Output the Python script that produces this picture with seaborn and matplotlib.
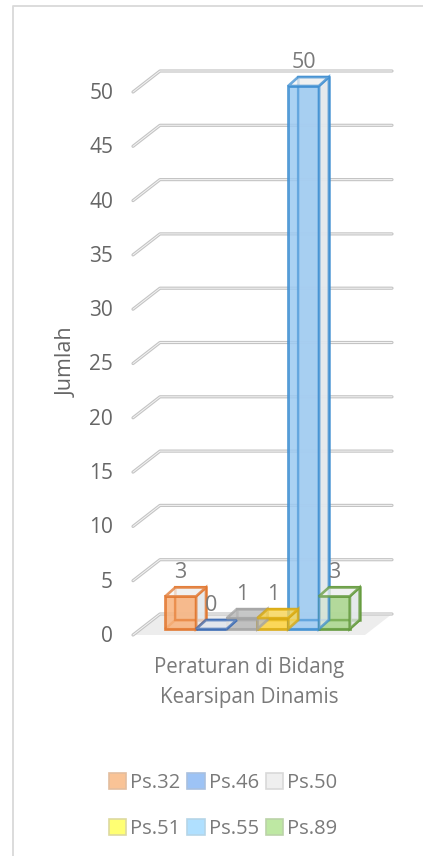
import matplotlib
matplotlib.use("Agg")
import matplotlib.pyplot as plt
import pandas as pd
import seaborn as sns
from matplotlib.patches import Patch, Polygon
from matplotlib.transforms import Affine2D

pasal = ["Ps.32", "Ps.46", "Ps.50", "Ps.51", "Ps.55", "Ps.89"]
jumlah = [3, 0, 1, 1, 50, 3]
y_ticks = [0, 5, 10, 15, 20, 25, 30, 35, 40, 45, 50]

front_colors = ["#F8B27C", "#6F9BD8", "#BDBDBD", "#FFD84D", "#9CCAF2", "#A9D68C"]
edge_colors = ["#E2772F", "#3E6DB5", "#A3A3A3", "#D9A90F", "#3F8FD2", "#639A3C"]
legend_colors = ["#F9C396", "#9DC3F5", "#EFEFEF", "#FFFF73", "#B0E0FF", "#BEE8A3"]
legend_edges = ["#E3BE9F", "#A9C0DF", "#D9D9D9", "#DDD9A0", "#B5D5E8", "#BBD3A8"]

W, H = 423, 856
GRAY = "#7A7A7A"

sns.set_style("white")
plt.rcParams["font.family"] = ["Open Sans", "DejaVu Sans"]

fig = plt.figure(figsize=(W / 100, H / 100), dpi=100)
# front plane of the bars, in pixels of the picture
ax = fig.add_axes([133 / W, 1 - 629 / H, 232 / W, 543 / H])
sx = 7.55 / 232  # data per pixel
sy = 50 / 543

df = pd.DataFrame({"pasal": pasal, "jumlah": jumlah})

sns.barplot(data=df, x="pasal", y="jumlah", hue="pasal", palette=front_colors,
            width=1.0, saturation=1, legend=False, ax=ax, zorder=4)
ax.set_xlim(-1.55, 6.0)
ax.set_ylim(0, 50)
bars = list(ax.patches)

# back wall and floor
wall_dx, wall_dy = 27 * sx, 15 * sy
front_dx, front_dy = 0, -6 * sy
ax.add_patch(Polygon([(-1.55 + front_dx, front_dy), (-1.55 + wall_dx, wall_dy),
                      (6.0 + wall_dx, wall_dy), (6.0, front_dy)],
                     closed=True, fc="#EDEDED", ec="none", clip_on=False, zorder=1))
for t in y_ticks:
    xs = [-1.55 + front_dx, -1.55 + wall_dx, 6.0 + wall_dx]
    ys = [t + front_dy, t + wall_dy, t + wall_dy]
    ax.plot(xs, ys, color="#C4C4C4", lw=2.3, clip_on=False, zorder=1.2, solid_capstyle="round")
    ax.plot(xs, ys, color="#F4F4F4", lw=0.7, clip_on=False, zorder=1.3)

# depth of the columns
dx, dy = 10 * sx, 9 * sy
for p, ec, fc, val in zip(bars, edge_colors, front_colors, jumlah):
    x0, x1 = p.get_x(), p.get_x() + p.get_width()
    top = p.get_height()
    low = top < 2  # flat columns look filled all over
    p.set_alpha(0.85)
    p.set_edgecolor(ec)
    p.set_linewidth(2.0)
    back = [(x0 + dx, dy), (x1 + dx, dy), (x1 + dx, top + dy), (x0 + dx, top + dy)]
    side = [(x1, 0), (x1 + dx, dy), (x1 + dx, top + dy), (x1, top)]
    lid = [(x0, top), (x1, top), (x1 + dx, top + dy), (x0 + dx, top + dy)]
    floor = [(x0, 0), (x1, 0), (x1 + dx, dy), (x0 + dx, dy)]
    lid_fc = fc if low and val > 0 else "#F3F3F3"
    ax.add_patch(Polygon(back, closed=True, fc="#E6E9EC", ec=ec, lw=1.8, alpha=0.8, zorder=3, clip_on=False))
    # back edges show through the front face
    ax.add_patch(Polygon(back, closed=True, fc="none", ec=ec, lw=1.6, alpha=0.55, zorder=4.5, clip_on=False))
    ax.add_patch(Polygon(floor, closed=True, fc=ec if low else "none", ec=ec, lw=1.8,
                         alpha=0.35 if low else 0.8, zorder=3, clip_on=False))
    ax.add_patch(Polygon(side, closed=True, fc=lid_fc if low else "#E4E8EC", ec=ec, lw=1.9, alpha=0.75, zorder=5, clip_on=False))
    ax.add_patch(Polygon(lid, closed=True, fc=lid_fc, ec=ec, lw=1.9, alpha=0.75, zorder=5, clip_on=False))
    p.set_clip_on(False)
    ax.annotate(str(val), xy=(p.get_x() + p.get_width() / 2, top), xytext=(0, 17.2),
                textcoords="offset points", ha="center", va="center",
                fontsize=15.5, color=GRAY, zorder=7, annotation_clip=False)

sns.despine(ax=ax, left=True, bottom=True, right=True, top=True)
ax.set_xticks([])
ax.set_xlabel("Peraturan di Bidang\nKearsipan Dinamis", fontsize=14.8, color=GRAY,
              labelpad=20, linespacing=1.6)
ax.set_yticks(y_ticks)
ax.tick_params(axis="y", length=0, pad=14.4, labelsize=15, labelcolor="#666666")
for lab in ax.get_yticklabels():
    lab.set_transform(lab.get_transform() + Affine2D().translate(0, -5))
ax.set_ylabel("Jumlah", fontsize=15.5, color="#666666")
ax.yaxis.set_label_coords(78 / W, 1 - 362 / H, transform=fig.transFigure)

# legend fills by column, so order the handles for two rows of three
order = [0, 3, 1, 4, 2, 5]
handles = [Patch(fc=legend_colors[i], ec=legend_edges[i], lw=1.2, label=pasal[i]) for i in order]
leg = fig.legend(handles=handles, ncol=3, loc="center", bbox_to_anchor=(223 / W, 1 - 806 / H),
                 frameon=False, fontsize=14.5, handlelength=0.85, handleheight=0.85,
                 handletextpad=0.2, columnspacing=0.35, labelspacing=1.25)
for t in leg.get_texts():
    t.set_color(GRAY)

# chart frame
fig.add_artist(plt.Line2D([13 / W, 13 / W, 1], [0, 1 - 6 / H, 1 - 6 / H],
                          color="#D9D9D9", lw=1.3, transform=fig.transFigure))

fig.savefig("out.png", dpi=100)
